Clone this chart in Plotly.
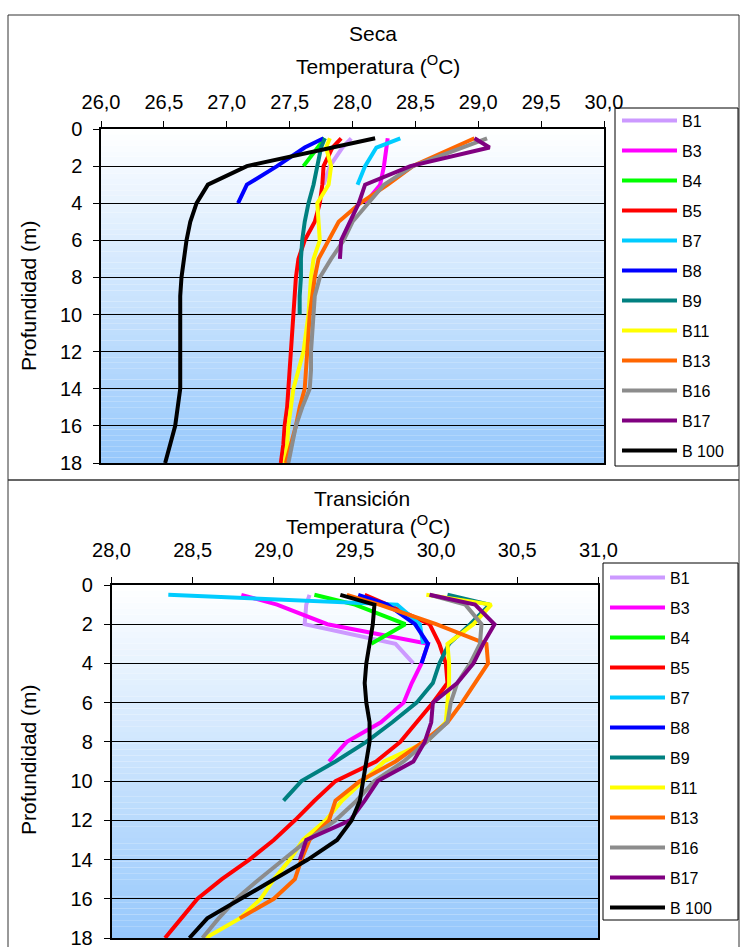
import plotly.graph_objects as go

# ---------------- data ----------------
DEPTHS = [0.5, 1, 2, 3, 4, 5, 6, 7, 8, 9, 10, 11, 12, 13, 14, 15, 16, 17, 18]
STATIONS = ["B1", "B3", "B4", "B5", "B7", "B8", "B9", "B11", "B13", "B16", "B17", "B 100"]
COLORS = ["#CC99FF", "#FF00FF", "#00FF00", "#FF0000", "#00CCFF", "#0000FF",
          "#008080", "#FFFF00", "#FF6600", "#8C8C8C", "#800080", "#000000"]

# Seca (dry season) temperatures, one value per depth in DEPTHS
seca_B1 = [27.99, 27.92, 27.82, 27.77]
seca_B3 = [28.28, 28.27, 28.25, 28.22, 28.10]
seca_B4 = [27.78, 27.72, 27.61]
seca_B5 = [27.91, 27.84, 27.77, 27.76, 27.74, 27.70, 27.62, 27.57, 27.55, 27.54,
           27.53, 27.52, 27.51, 27.50, 27.49, 27.48, 27.46, 27.45, 27.43]
seca_B7 = [28.38, 28.19, 28.10, 28.04]
seca_B8 = [27.77, 27.62, 27.40, 27.16, 27.09]
seca_B9 = [27.78, 27.75, 27.72, 27.69, 27.65, 27.62, 27.60, 27.59, 27.59, 27.58, 27.58]
seca_B11 = [27.82, 27.79, 27.83, 27.81, 27.72, 27.73, 27.74, 27.69, 27.67, 27.66,
            27.65, 27.63, 27.61, 27.57, 27.53, 27.51, 27.49, 27.48, 27.46]
seca_B13 = [28.97, 28.81, 28.48, 28.28, 28.06, 27.89, 27.81, 27.73, 27.70, 27.68,
            27.66, 27.65, 27.64, 27.63, 27.62, 27.58, 27.55, 27.51, 27.47]
seca_B16 = [29.07, 28.88, 28.48, 28.25, 28.12, 28.00, 27.93, 27.83, 27.74, 27.70,
            27.69, 27.68, 27.67, 27.67, 27.66, 27.60, 27.55, 27.52, 27.49]
seca_B17 = [28.97, 29.09, 28.46, 28.10, 28.05, 27.98, 27.91, 27.90]
seca_B100 = [28.18, 27.84, 27.16, 26.85, 26.76, 26.71, 26.68, 26.66, 26.64, 26.63,
             26.63, 26.63, 26.63, 26.63, 26.63, 26.61, 26.59, 26.55, 26.51]

# Transicion temperatures
tran_B1 = [29.22, 29.20, 29.19, 29.75, 29.86]
tran_B3 = [28.80, 29.02, 29.33, 29.95, 29.91, 29.85, 29.80, 29.66, 29.45, 29.34]
tran_B4 = [29.25, 29.50, 29.81, 29.60]
tran_B5 = [29.56, 29.70, 29.96, 30.02, 30.06, 30.07, 29.98, 29.88, 29.78, 29.63,
           29.38, 29.25, 29.13, 29.00, 28.85, 28.68, 28.53, 28.43, 28.33]
tran_B7 = [28.35, 29.76, 29.90, 29.92]
tran_B8 = [29.52, 29.70, 29.87, 29.95, 29.91]
tran_B9 = [30.07, 30.33, 30.21, 30.08, 30.02, 29.98, 29.88, 29.73, 29.57, 29.38, 29.17, 29.06]
tran_B11 = [29.94, 30.34, 30.23, 30.07, 30.08, 30.08, 30.07, 30.06, 29.94, 29.68,
            29.55, 29.42, 29.32, 29.18, 29.10, 29.00, 28.92, 28.79, 28.58]
tran_B13 = [29.45, 29.65, 30.00, 30.31, 30.32, 30.24, 30.16, 30.07, 29.92, 29.75,
            29.53, 29.38, 29.34, 29.22, 29.17, 29.13, 29.00, 28.79]
tran_B16 = [29.96, 30.18, 30.28, 30.27, 30.21, 30.13, 30.09, 30.07, 29.94, 29.80,
            29.62, 29.51, 29.38, 29.21, 29.06, 28.91, 28.77, 28.66, 28.56]
tran_B17 = [29.96, 30.24, 30.36, 30.29, 30.23, 30.13, 29.98, 29.97, 29.93, 29.86,
            29.64, 29.56, 29.47, 29.20, 29.16]
tran_B100 = [29.41, 29.62, 29.61, 29.59, 29.57, 29.56, 29.57, 29.59, 29.59, 29.57,
             29.55, 29.53, 29.48, 29.39, 29.21, 29.00, 28.79, 28.59, 28.48]

SECA = [seca_B1, seca_B3, seca_B4, seca_B5, seca_B7, seca_B8, seca_B9,
        seca_B11, seca_B13, seca_B16, seca_B17, seca_B100]
TRAN = [tran_B1, tran_B3, tran_B4, tran_B5, tran_B7, tran_B8, tran_B9,
        tran_B11, tran_B13, tran_B16, tran_B17, tran_B100]

TITLE_TOP = "Seca"
TITLE_BOT = "Transición"
XTITLE = "Temperatura (<sup>O</sup>C)"
YTITLE = "Profundidad (m)"

# ---------------- figure ----------------
W, H = 740, 947
FONT = "Liberation Sans, Arial, sans-serif"


def px(x):
    return x / W


def py(y):
    return 1 - y / H


fig = go.Figure()

for name, col, temps in zip(STATIONS, COLORS, SECA):
    fig.add_trace(go.Scatter(
        x=temps, y=DEPTHS[:len(temps)], mode="lines", name=name,
        line=dict(color=col, width=4), xaxis="x", yaxis="y",
        legend="legend", legendgroup="s_" + name))

for name, col, temps in zip(STATIONS, COLORS, TRAN):
    fig.add_trace(go.Scatter(
        x=temps, y=DEPTHS[:len(temps)], mode="lines", name=name,
        line=dict(color=col, width=4), xaxis="x2", yaxis="y2",
        legend="legend2", legendgroup="t_" + name))

axis_common = dict(showline=True, linecolor="black", linewidth=1.5, mirror=True,
                   ticks="outside", ticklen=6, tickcolor="black", automargin=False,
                   ticklabeloverflow="allow",
                   tickfont=dict(family=FONT, size=20, color="black"), zeroline=False)

legend_common = dict(xanchor="left", yanchor="top", bgcolor="rgba(0,0,0,0)",
                     borderwidth=0, font=dict(family=FONT, size=16, color="black"),
                     itemwidth=55, tracegroupgap=6.2)

fig.update_layout(
    width=W, height=H,
    margin=dict(l=0, r=0, t=0, b=0, pad=0, autoexpand=False),
    paper_bgcolor="white", plot_bgcolor="white",
    separators=",.",
    font=dict(family=FONT, color="black"),
    xaxis=dict(domain=[px(101), px(604)], anchor="y", side="top", range=[26, 30],
               dtick=0.5, tick0=26, tickformat=".1f", showgrid=False,
               ticklabelstandoff=4, **axis_common),
    yaxis=dict(domain=[py(463), py(129)], anchor="x", range=[18, 0], dtick=2,
               showgrid=True, gridcolor="black", gridwidth=1,
               ticklabelstandoff=7, **axis_common),
    xaxis2=dict(domain=[px(111.5), px(598.4)], anchor="y2", side="top", range=[28, 31],
                dtick=0.5, tick0=28, tickformat=".1f", showgrid=False,
                ticklabelstandoff=12, **axis_common),
    yaxis2=dict(domain=[py(938), py(585)], anchor="x2", range=[18, 0], dtick=2,
                showgrid=True, gridcolor="black", gridwidth=1,
                ticklabelstandoff=7, **axis_common),
    legend=dict(x=px(617), y=py(103.5), **legend_common),
    legend2=dict(x=px(605), y=py(560.5), **legend_common),
    showlegend=True,
)

# gradient background of plot areas (white at top to light blue at bottom)
N = 60
top_c = (255, 255, 255)
bot_c = (150, 200, 252)
shapes = []
for xr, yr in (("x domain", "y domain"), ("x2 domain", "y2 domain")):
    for i in range(N):
        f = (i + 0.5) / N  # 0 bottom, 1 top
        c = tuple(round(b + (t - b) * f) for t, b in zip(top_c, bot_c))
        shapes.append(dict(type="rect", xref=xr, yref=yr, x0=0, x1=1,
                           y0=i / N, y1=(i + 1) / N, layer="below",
                           line=dict(width=0), fillcolor="rgb(%d,%d,%d)" % c))

# outer frames of the two chart panels
shapes.append(dict(type="rect", xref="paper", yref="paper", x0=px(8), x1=px(739),
                   y0=py(480), y1=py(15), layer="below", line=dict(color="#333", width=1)))
shapes.append(dict(type="rect", xref="paper", yref="paper", x0=px(8), x1=px(739),
                   y0=-0.05, y1=py(480), layer="below", line=dict(color="#333", width=1)))
# legend boxes
shapes.append(dict(type="rect", xref="paper", yref="paper", x0=px(615), x1=px(738),
                   y0=py(466), y1=py(108), layer="below", fillcolor="white",
                   line=dict(color="black", width=1)))
shapes.append(dict(type="rect", xref="paper", yref="paper", x0=px(603), x1=px(738),
                   y0=py(920), y1=py(563), layer="below", fillcolor="white",
                   line=dict(color="black", width=1)))
fig.update_layout(shapes=shapes)

ann = []


def add_text(text, x, y, size, angle=0):
    ann.append(dict(text=text, x=px(x), y=py(y), xref="paper", yref="paper",
                    showarrow=False, textangle=angle, xanchor="center", yanchor="middle",
                    font=dict(family=FONT, size=size, color="black")))


add_text(TITLE_TOP, 373, 33, 21)
add_text(XTITLE, 378, 65, 21)
add_text(YTITLE, 28, 296, 21, -90)
add_text(TITLE_BOT, 362, 498, 21)
add_text(XTITLE, 368, 525, 21)
add_text(YTITLE, 28, 760, 21, -90)
fig.update_layout(annotations=ann)

fig.write_html("out.html", config={"displayModeBar": False},
               post_script="document.body.style.margin='0px';")
